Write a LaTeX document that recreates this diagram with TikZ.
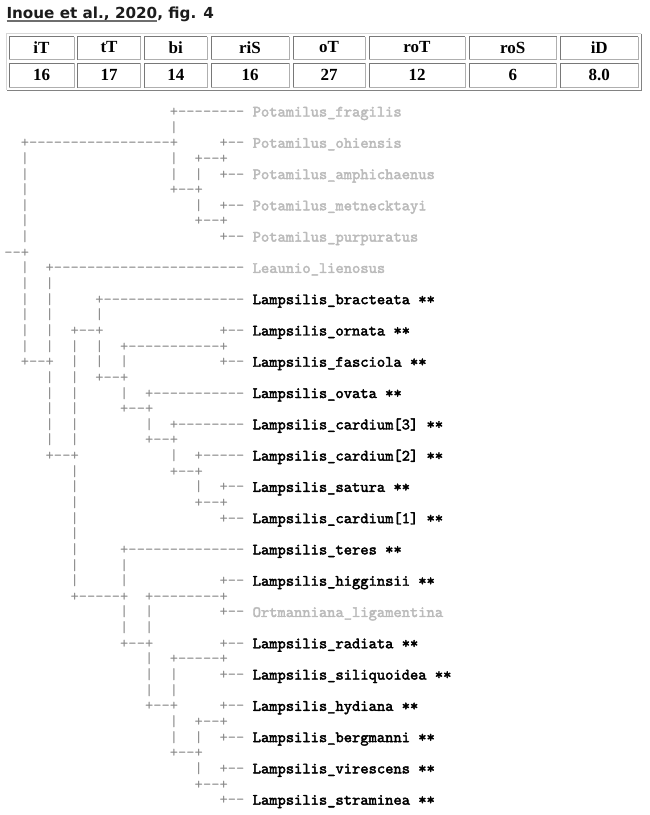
\documentclass[tikz,border=0pt]{standalone}
\usepackage{fontspec}
\newfontfamily\titlefont{DejaVu Sans}
\newfontfamily\cellfont{Liberation Serif}
\newfontfamily\treefont{lmmono10-regular.otf}
\newfontfamily\leaffont{lmmono10-regular.otf}[FakeBold=2.5]
\definecolor{treegray}{RGB}{136,136,136}
\definecolor{leafgray}{RGB}{187,187,187}
\definecolor{titleink}{RGB}{28,28,28}
\definecolor{ulgray}{RGB}{110,110,110}
\definecolor{celldark}{RGB}{120,120,120}
\definecolor{celllight}{RGB}{175,175,175}
\definecolor{outerlight}{RGB}{215,215,215}
\definecolor{outerdark}{RGB}{130,130,130}
\tikzset{
  treechar/.style={anchor=base west, inner sep=0pt, outer sep=0pt, text=treegray,
    font=\treefont\fontsize{15.77}{15.77}\selectfont},
  leafblack/.style={anchor=base west, inner sep=0pt, outer sep=0pt, text=black,
    font=\leaffont\fontsize{15.77}{15.77}\selectfont},
  leafgrey/.style={leafblack, text=leafgray},
  celltext/.style={inner sep=0pt, text=black, font=\cellfont\bfseries\fontsize{17}{17}\selectfont},
  titletext/.style={anchor=base west, inner sep=0pt, outer sep=0pt, text=titleink,
    font=\titlefont\bfseries\fontsize{15.2}{15.2}\selectfont},
}
\newcommand\tf[3]{\node[treechar] (t#1c#2) at ({4.3+8.28*#2},{116.5+15.64*#1}) {#3};}
\newcommand\lf[3]{\node[#2] (n#1) at ({4.3+8.28*30},{116.5+15.64*#1}) {#3};}
\begin{document}
\begin{tikzpicture}[x=1pt,y=-1pt]
\useasboundingbox (0,0) rectangle (650,815);
\fill[white] (0,0) rectangle (650,815);
% title
\node[titletext] (t1) at (6.5,18.5) {Inoue et al., 2020};
\node[titletext, anchor=base west] (t2) at (t1.base east) {, fig. 4};
\draw[ulgray, line width=1.2pt] ([yshift=-2.4pt]t1.base west) -- ([yshift=-2.4pt]t1.base east);
% table outer border
\draw[outerlight, line width=1pt] (6.5,90) -- (6.5,33.5) -- (641,33.5);
\draw[outerdark, line width=1pt] (641,33.5) -- (641,90) -- (6.5,90);
% cells
\foreach \l/\r/\h/\v [count=\i] in {8.5/74.5/iT/16, 77/141/tT/17, 144/207.5/bi/14, 210.5/289.5/riS/16, 292.5/365.5/oT/27, 368.5/465.5/roT/12, 468.5/557/roS/6, 560/638.5/iD/8.0}{
  \draw[celldark, line width=1pt] ({\l+0.5},59.5) -- ({\l+0.5},36.5) -- ({\r-0.5},36.5);
  \draw[celllight, line width=1pt] ({\r-0.5},36.5) -- ({\r-0.5},59.5) -- ({\l+0.5},59.5);
  \draw[celldark, line width=1pt] ({\l+0.5},87.5) -- ({\l+0.5},63) -- ({\r-0.5},63);
  \draw[celllight, line width=1pt] ({\r-0.5},63) -- ({\r-0.5},87.5) -- ({\l+0.5},87.5);
  \node[celltext] (h\i) at ({(\l+\r)/2},47.5) {\h};
  \node[celltext] (v\i) at ({(\l+\r)/2},74.5) {\v};
}
% tree characters
\tf{0}{20}{+--------}
\tf{1}{20}{|}
\tf{2}{2}{+-----------------+}\tf{2}{26}{+--}
\tf{3}{2}{|}\tf{3}{20}{|}\tf{3}{23}{+--+}
\tf{4}{2}{|}\tf{4}{20}{|}\tf{4}{23}{|}\tf{4}{26}{+--}
\tf{5}{2}{|}\tf{5}{20}{+--+}
\tf{6}{2}{|}\tf{6}{23}{|}\tf{6}{26}{+--}
\tf{7}{2}{|}\tf{7}{23}{+--+}
\tf{8}{2}{|}\tf{8}{26}{+--}
\tf{9}{0}{--+}
\tf{10}{2}{|}\tf{10}{5}{+-----------------------}
\tf{11}{2}{|}\tf{11}{5}{|}
\tf{12}{2}{|}\tf{12}{5}{|}\tf{12}{11}{+-----------------}
\tf{13}{2}{|}\tf{13}{5}{|}\tf{13}{11}{|}
\tf{14}{2}{|}\tf{14}{5}{|}\tf{14}{8}{+--+}\tf{14}{26}{+--}
\tf{15}{2}{|}\tf{15}{5}{|}\tf{15}{8}{|}\tf{15}{11}{|}\tf{15}{14}{+-----------+}
\tf{16}{2}{+--+}\tf{16}{8}{|}\tf{16}{11}{|}\tf{16}{14}{|}\tf{16}{26}{+--}
\tf{17}{5}{|}\tf{17}{8}{|}\tf{17}{11}{+--+}
\tf{18}{5}{|}\tf{18}{8}{|}\tf{18}{14}{|}\tf{18}{17}{+-----------}
\tf{19}{5}{|}\tf{19}{8}{|}\tf{19}{14}{+--+}
\tf{20}{5}{|}\tf{20}{8}{|}\tf{20}{17}{|}\tf{20}{20}{+--------}
\tf{21}{5}{|}\tf{21}{8}{|}\tf{21}{17}{+--+}
\tf{22}{5}{+--+}\tf{22}{20}{|}\tf{22}{23}{+-----}
\tf{23}{8}{|}\tf{23}{20}{+--+}
\tf{24}{8}{|}\tf{24}{23}{|}\tf{24}{26}{+--}
\tf{25}{8}{|}\tf{25}{23}{+--+}
\tf{26}{8}{|}\tf{26}{26}{+--}
\tf{27}{8}{|}
\tf{28}{8}{|}\tf{28}{14}{+--------------}
\tf{29}{8}{|}\tf{29}{14}{|}
\tf{30}{8}{|}\tf{30}{14}{|}\tf{30}{26}{+--}
\tf{31}{8}{+-----+}\tf{31}{17}{+--------+}
\tf{32}{14}{|}\tf{32}{17}{|}\tf{32}{26}{+--}
\tf{33}{14}{|}\tf{33}{17}{|}
\tf{34}{14}{+--+}\tf{34}{26}{+--}
\tf{35}{17}{|}\tf{35}{20}{+-----+}
\tf{36}{17}{|}\tf{36}{20}{|}\tf{36}{26}{+--}
\tf{37}{17}{|}\tf{37}{20}{|}
\tf{38}{17}{+--+}\tf{38}{26}{+--}
\tf{39}{20}{|}\tf{39}{23}{+--+}
\tf{40}{20}{|}\tf{40}{23}{|}\tf{40}{26}{+--}
\tf{41}{20}{+--+}
\tf{42}{23}{|}\tf{42}{26}{+--}
\tf{43}{23}{+--+}
\tf{44}{26}{+--}
% leaves
\lf{0}{leafgrey}{Potamilus\_fragilis}
\lf{2}{leafgrey}{Potamilus\_ohiensis}
\lf{4}{leafgrey}{Potamilus\_amphichaenus}
\lf{6}{leafgrey}{Potamilus\_metnecktayi}
\lf{8}{leafgrey}{Potamilus\_purpuratus}
\lf{10}{leafgrey}{Leaunio\_lienosus}
\lf{12}{leafblack}{Lampsilis\_bracteata **}
\lf{14}{leafblack}{Lampsilis\_ornata **}
\lf{16}{leafblack}{Lampsilis\_fasciola **}
\lf{18}{leafblack}{Lampsilis\_ovata **}
\lf{20}{leafblack}{Lampsilis\_cardium[3] **}
\lf{22}{leafblack}{Lampsilis\_cardium[2] **}
\lf{24}{leafblack}{Lampsilis\_satura **}
\lf{26}{leafblack}{Lampsilis\_cardium[1] **}
\lf{28}{leafblack}{Lampsilis\_teres **}
\lf{30}{leafblack}{Lampsilis\_higginsii **}
\lf{32}{leafgrey}{Ortmanniana\_ligamentina}
\lf{34}{leafblack}{Lampsilis\_radiata **}
\lf{36}{leafblack}{Lampsilis\_siliquoidea **}
\lf{38}{leafblack}{Lampsilis\_hydiana **}
\lf{40}{leafblack}{Lampsilis\_bergmanni **}
\lf{42}{leafblack}{Lampsilis\_virescens **}
\lf{44}{leafblack}{Lampsilis\_straminea **}
\end{tikzpicture}
\end{document}
